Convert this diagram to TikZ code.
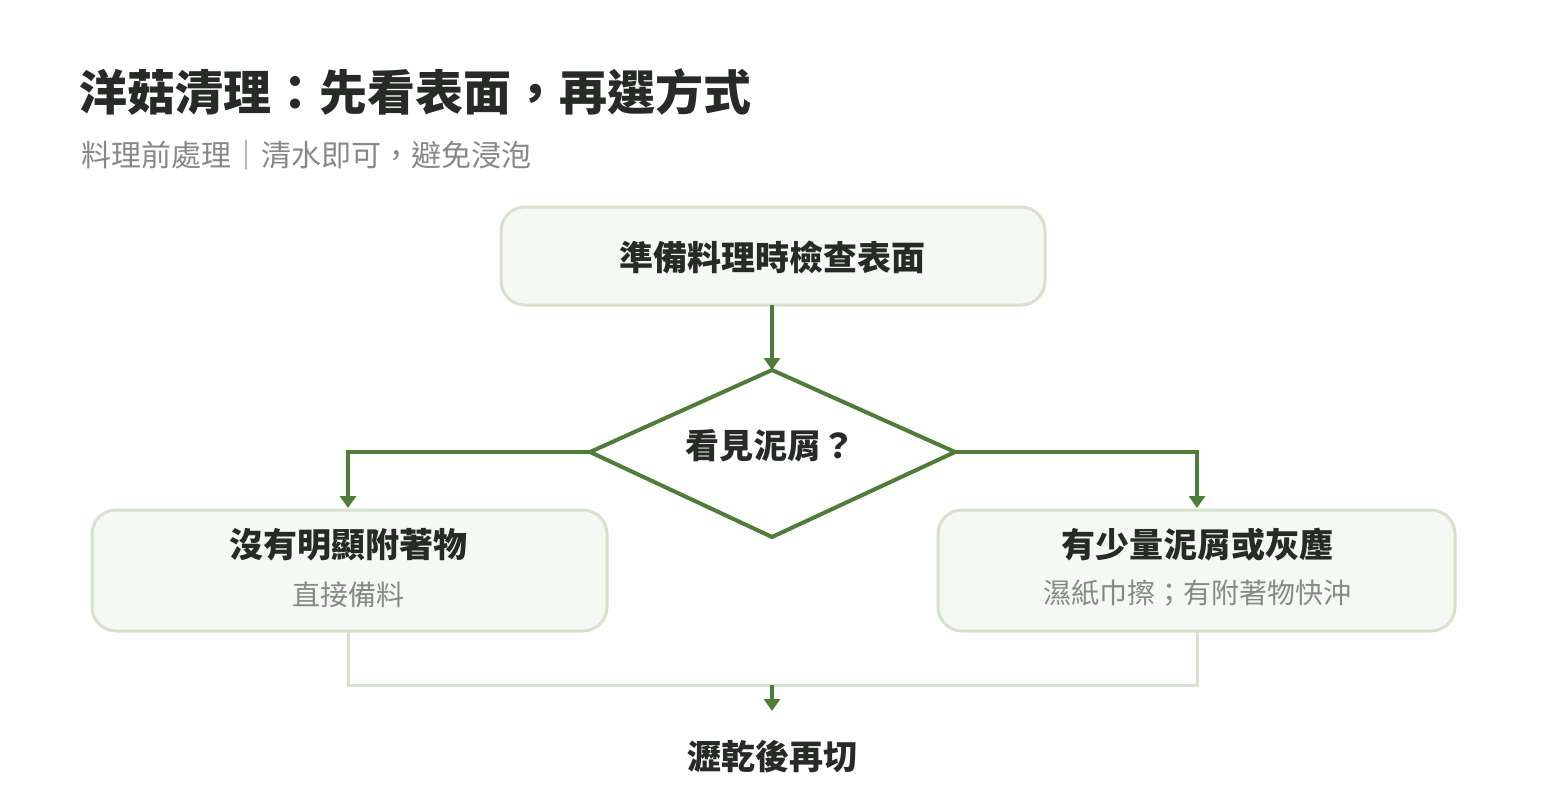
\documentclass[tikz,border=0pt]{standalone}
\usepackage{fontspec}
\setmainfont{Noto Sans CJK TC}
\usetikzlibrary{shapes.geometric,arrows.meta}
\definecolor{leaf}{HTML}{4E7D3A}
\definecolor{pale}{HTML}{D6E2CE}
\definecolor{boxfill}{HTML}{F6F8F3}
\definecolor{ink}{HTML}{262B26}
\definecolor{mute}{HTML}{858A84}
\tikzset{
  stage/.style={draw=pale, line width=1.5pt, fill=boxfill, rounded corners=12pt},
  flow/.style={draw=leaf, line width=2pt, -{Triangle[length=6pt,width=8pt]}},
  merge/.style={draw=pale, line width=1.5pt},
  head/.style={font=\fontsize{17pt}{20pt}\selectfont\bfseries, text=ink},
  note/.style={font=\fontsize{14pt}{17pt}\selectfont, text=mute},
}
\begin{document}
\begin{tikzpicture}[x=0.5pt,y=-0.5pt]
\useasboundingbox (0,0) rectangle (1546,800);

\node[anchor=west, font=\fontsize{24pt}{28pt}\selectfont\bfseries, text=ink] (title) at (72,92) {洋菇清理：先看表面，再選方式};
\node[anchor=west, font=\fontsize{15pt}{18pt}\selectfont, text=mute] (sub) at (74,155) {料理前處理｜清水即可，避免浸泡};

% top box
\draw[stage] (501,207) rectangle (1045,305);
\node[head] (check) at (772,257) {準備料理時檢查表面};
\coordinate (checkb) at (772,305);

% decision
\draw[draw=leaf, line width=2pt, fill=white] (772,370) -- (955,452) -- (772,537) -- (590,452) -- cycle;
\node[head] (ask) at (770,446) {看見泥屑？};
\coordinate (askt) at (772,370);
\coordinate (askl) at (590,452);
\coordinate (askr) at (955,452);

% branch boxes
\draw[stage] (92,510) rectangle (607,631);
\node[head] (none) at (348,545) {沒有明顯附著物};
\node[note] (noneb) at (348,595) {直接備料};
\draw[stage] (938,510) rectangle (1455,631);
\node[head] (dirt) at (1197,545) {有少量泥屑或灰塵};
\node[note] (dirtb) at (1197,593) {濕紙巾擦；有附著物快沖};

\coordinate (nonet) at (348,508);
\coordinate (dirtt) at (1197,508);
\coordinate (nonebt) at (348,631);
\coordinate (dirtbt) at (1197,631);
\coordinate (mid) at (772,685);

\node[head] (drain) at (772,757) {瀝乾後再切};
\coordinate (draint) at (772,711);

\draw[flow] (checkb) -- (askt);
\draw[flow] (askl) -| (nonet);
\draw[flow] (askr) -| (dirtt);
\draw[merge] (nonebt) |- (mid) -| (dirtbt);
\draw[flow] (mid) -- (draint);
\end{tikzpicture}
\end{document}
